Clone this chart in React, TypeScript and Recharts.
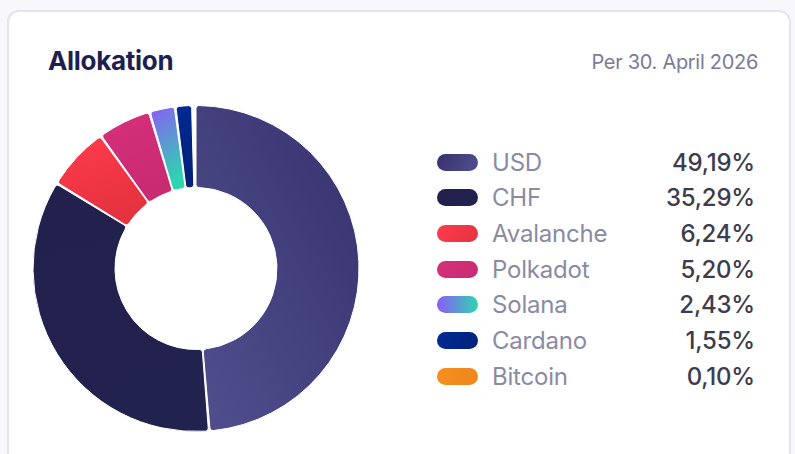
import React from 'react'
import { PieChart, Pie, Cell } from 'recharts'

// Allokation per 30. April 2026
const NAMES = ['USD', 'CHF', 'Avalanche', 'Polkadot', 'Solana', 'Cardano', 'Bitcoin']
const SHARES = [49.19, 35.29, 6.24, 5.2, 2.43, 1.55, 0.1]
const LABELS = ['49,19%', '35,29%', '6,24%', '5,20%', '2,43%', '1,55%', '0,10%']

// [from, to] for each slice
const GRADS: [string, string][] = [
  ['#36326f', '#514f8d'],
  ['#22214e', '#22224f'],
  ['#ff3b4c', '#e5323f'],
  ['#d62f7b', '#c82b72'],
  ['#8b5cf6', '#2dd4b0'],
  ['#002b94', '#00227a'],
  ['#f39020', '#ef861a'],
]

const data = NAMES.map((n, i) => ({ name: n, value: SHARES[i] }))

export default function App() {
  return (
    <div style={{ position: 'fixed', left: 0, top: 0, width: 795, height: 454, background: '#f7f7fc', overflow: 'hidden', fontFamily: 'Inter, sans-serif' }}>
      <div style={{ position: 'absolute', left: 7, top: 10, width: 780, height: 470, background: '#fff', border: '2px solid #e4e3ee', borderRadius: 12 }} />

      <div style={{ position: 'absolute', left: 48, top: 45, fontSize: 26, fontWeight: 700, color: '#1f1e50', letterSpacing: -0.3 }}>
        Allokation
      </div>
      <div style={{ position: 'absolute', right: 37, top: 50, fontSize: 20, color: '#7c7b96', letterSpacing: -0.3 }}>
        Per 30. April 2026
      </div>

      <div style={{ position: 'absolute', left: 0, top: 0 }}>
        <PieChart width={400} height={454} margin={{ top: 0, right: 0, bottom: 0, left: 0 }}>
          <defs>
            {GRADS.map(([a, b], i) => (
              <linearGradient key={i} id={'g' + i}
                x1={i === 0 ? 1 : 0} y1={0} x2={i === 0 ? 0 : 0.3} y2={1}>
                <stop offset="0%" stopColor={a} />
                <stop offset="100%" stopColor={b} />
              </linearGradient>
            ))}
          </defs>
          <Pie data={data} dataKey="value" nameKey="name"
            cx={196} cy={268.5} innerRadius={81} outerRadius={163}
            startAngle={90} endAngle={-270} paddingAngle={0.6} cornerRadius={3}
            stroke="#fff" strokeWidth={1} isAnimationActive={false}>
            {data.map((d, i) => (
              <Cell key={d.name} fill={`url(#g${i})`} />
            ))}
          </Pie>
        </PieChart>
      </div>

      {NAMES.map((n, i) => (
        <div key={n} style={{ position: 'absolute', left: 437, top: 162 + i * 35.7 - 18, width: 318, height: 36, display: 'flex', alignItems: 'center' }}>
          <div style={{ width: 41, height: 17, borderRadius: 9, background: `linear-gradient(${i === 4 ? 90 : 120}deg, ${GRADS[i][0]}, ${GRADS[i][1]})` }} />
          <div style={{ marginLeft: 14, fontSize: 24, color: '#8b8aa4', letterSpacing: -0.2 }}>{n}</div>
          <div style={{ marginLeft: 'auto', fontSize: 24, fontWeight: 500, color: '#3c3c4e', letterSpacing: -0.2 }}>{LABELS[i]}</div>
        </div>
      ))}
    </div>
  )
}
